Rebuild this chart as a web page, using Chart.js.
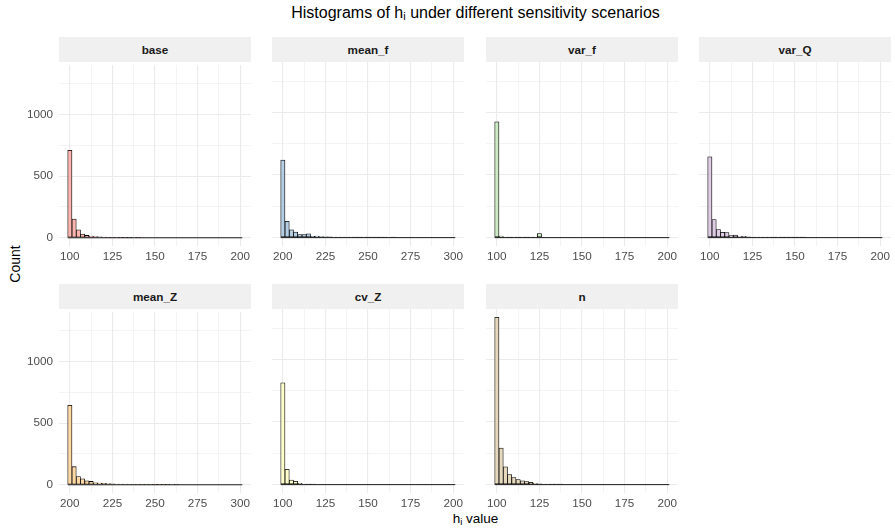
<!DOCTYPE html>
<html>
<head>
<meta charset="utf-8">
<script src="https://cdn.jsdelivr.net/npm/chart.js@4.4.0/dist/chart.umd.min.js"></script>
<style>
  body { margin: 0; width: 895px; height: 530px; background: #fff; position: relative; overflow: hidden;
         font-family: "Liberation Sans", Arial, Helvetica, sans-serif; }
  canvas { position: absolute; }
  .strip { position: absolute; height: 25px; line-height: 25px; background: #f0f0f0; text-align: center;
           font-weight: bold; font-size: 11.7px; color: #1a1a1a; }
  .label { position: absolute; color: #000; font-size: 13.5px; white-space: nowrap; }
  .label sub { font-size: 9.5px; vertical-align: -2px; line-height: 0; }
  #title { left: 0; width: 951px; top: 4px; text-align: center; font-size: 16px; }
  #title sub { font-size: 11px; }
  #xtitle { left: 0; width: 951px; top: 511px; text-align: center; }
  #ytitle { left: 15px; top: 264px; transform: translate(-50%, -50%) rotate(-90deg); font-size: 14px; }
</style>
</head>
<body>
<div class="label" id="title">Histograms of h<sub>i</sub> under different sensitivity scenarios</div>
<div class="label" id="xtitle">h<sub>i</sub> value</div>
<div class="label" id="ytitle">Count</div>

<script>
// scenarios in facet order
const scenarios = ['base', 'mean_f', 'var_f', 'var_Q', 'mean_Z', 'cv_Z', 'n'];
const binStarts = [100, 200, 100, 100, 200, 100, 100];
const binWidth = 2.5;

// counts per bin (41 bins each, first bin centred on binStart)
const baseCounts  = [710, 152, 64, 30, 19, 13, 10, 7, 5, 3, 2, 2, 1, 1, 1, 0, 1, 0, 0, 0, 0, 0, 0, 0, 0, 0, 0, 0, 0, 0, 0, 0, 0, 0, 0, 0, 0, 0, 0, 0, 0];
const meanFCounts = [620, 130, 62, 45, 24, 24, 30, 10, 12, 8, 6, 6, 4, 5, 3, 4, 3, 2, 2, 3, 2, 1, 1, 2, 1, 0, 1, 0, 0, 0, 0, 0, 0, 0, 0, 0, 0, 0, 0, 0, 0];
const varFCounts  = [925, 12, 3, 2, 3, 2, 3, 2, 4, 3, 32, 0, 0, 0, 0, 0, 0, 0, 0, 0, 0, 0, 0, 0, 0, 0, 0, 0, 0, 0, 0, 0, 0, 0, 0, 0, 0, 0, 0, 0, 0];
const varQCounts  = [645, 145, 65, 43, 40, 16, 20, 8, 10, 6, 5, 4, 4, 3, 3, 2, 3, 2, 1, 1, 2, 1, 1, 0, 0, 0, 0, 0, 0, 0, 0, 0, 0, 0, 0, 0, 0, 0, 0, 0, 0];
const meanZCounts = [645, 147, 67, 48, 32, 27, 15, 14, 11, 10, 8, 6, 6, 5, 4, 3, 3, 2, 2, 2, 1, 1, 1, 1, 0, 1, 0, 0, 0, 0, 0, 0, 0, 0, 0, 0, 0, 0, 0, 0, 0];
const cvZCounts   = [813, 123, 37, 27, 10, 4, 2, 1, 0, 0, 0, 0, 0, 0, 0, 0, 0, 0, 0, 0, 0, 0, 0, 0, 0, 0, 0, 0, 0, 0, 0, 0, 0, 0, 0, 0, 0, 0, 0, 0, 0];
const nCounts     = [1336, 292, 142, 80, 56, 40, 30, 24, 19, 11, 6, 4, 3, 2, 1, 1, 0, 0, 0, 0, 0, 0, 0, 0, 0, 0, 0, 0, 0, 0, 0, 0, 0, 0, 0, 0, 0, 0, 0, 0, 0];
const allCounts = [baseCounts, meanFCounts, varFCounts, varQCounts, meanZCounts, cvZCounts, nCounts];

const fillColors = ['#FBB4AE', '#B3CDE3', '#CCEBC5', '#DECBE4', '#FED9A6', '#FFFFCC', '#E5D8BD'];

// axis breaks: labelled (major) and grid-only (minor)
const yTickLabels = [0, 500, 1000];
const yMinorBreaks = [250, 750, 1250];
const xTickLabels100 = [100, 125, 150, 175, 200];
const xMinorBreaks100 = [112.5, 137.5, 162.5, 187.5];
const xTickLabels200 = [200, 225, 250, 275, 300];
const xMinorBreaks200 = [212.5, 237.5, 262.5, 287.5];

// layout (px)
const COL_X = [59, 272, 486, 699];
const ROW_Y = [62, 309];
const PANEL_W = 192, PANEL_H = 184, STRIP_H = 25;
const PAD_L = 14, PAD_R = 14, PAD_T = 10, X_AXIS_H = 22, Y_AXIS_W = 46;

const GRID = '#ebebeb';
const TICK_FONT = { family: '"Liberation Sans", Arial, Helvetica, sans-serif', size: 11.7 };

const yMaxData = Math.max(...allCounts.map(c => Math.max(...c)));
const yPad = yMaxData * 0.05;

function breakTicks(major, minor) {
    return major.concat(minor).sort((a, b) => a - b).map(v => ({ value: v }));
}

scenarios.forEach((name, i) => {
    const col = i % 4, row = Math.floor(i / 4);
    const left = COL_X[col], top = ROW_Y[row];
    const counts = allCounts[i];
    const start = binStarts[i];
    const xLabels = start === 200 ? xTickLabels200 : xTickLabels100;
    const xMinor = start === 200 ? xMinorBreaks200 : xMinorBreaks100;
    const lo = start - binWidth / 2;
    const hi = start + (counts.length - 1) * binWidth + binWidth / 2;
    const xPad = (hi - lo) * 0.05;
    const yw = col === 0 ? Y_AXIS_W : 0;

    const strip = document.createElement('div');
    strip.className = 'strip';
    strip.style.left = left + 'px';
    strip.style.top = (top - STRIP_H) + 'px';
    strip.style.width = PANEL_W + 'px';
    strip.textContent = name;
    document.body.appendChild(strip);

    const canvas = document.createElement('canvas');
    const cw = PAD_L + yw + PANEL_W + PAD_R;
    const ch = PAD_T + PANEL_H + X_AXIS_H;
    canvas.width = cw; canvas.height = ch;
    canvas.style.width = cw + 'px'; canvas.style.height = ch + 'px';
    canvas.style.left = (left - PAD_L - yw) + 'px';
    canvas.style.top = (top - PAD_T) + 'px';
    document.body.appendChild(canvas);

    new Chart(canvas.getContext('2d'), {
        type: 'bar',
        data: {
            datasets: [{
                type: 'bar',
                data: counts.map((c, k) => ({ x: start + k * binWidth, y: c })),
                backgroundColor: fillColors[i],
                borderColor: '#000',
                borderWidth: 0.8,
                borderSkipped: false,
                barPercentage: 1,
                categoryPercentage: 1,
                order: 1
            }, {
                // zero-height bins still show their outline along the baseline
                type: 'line',
                data: [{ x: lo, y: 0 }, { x: hi, y: 0 }],
                borderColor: '#1a1a1a',
                borderWidth: 1,
                pointRadius: 0,
                order: 0
            }]
        },
        options: {
            responsive: false,
            animation: false,
            layout: { padding: { left: PAD_L, right: PAD_R, top: PAD_T, bottom: 0 } },
            plugins: { legend: { display: false }, tooltip: { enabled: false } },
            scales: {
                x: {
                    type: 'linear',
                    offset: false,
                    min: lo - xPad,
                    max: hi + xPad,
                    border: { display: false },
                    grid: {
                        offset: false,
                        color: GRID,
                        drawTicks: false,
                        lineWidth: ctx => (ctx.tick && xLabels.includes(ctx.tick.value)) ? 1.1 : 0.55
                    },
                    ticks: {
                        autoSkip: false,
                        maxRotation: 0,
                        padding: 4,
                        color: '#4d4d4d',
                        font: TICK_FONT,
                        callback: v => xLabels.includes(v) ? String(v) : ''
                    },
                    afterBuildTicks: s => { s.ticks = breakTicks(xLabels, xMinor); },
                    afterFit: s => { s.height = X_AXIS_H; }
                },
                y: {
                    min: -yPad,
                    max: yMaxData + yPad,
                    border: { display: false },
                    grid: {
                        color: GRID,
                        drawTicks: false,
                        lineWidth: ctx => (ctx.tick && yTickLabels.includes(ctx.tick.value)) ? 1.1 : 0.55
                    },
                    ticks: {
                        display: col === 0,
                        autoSkip: false,
                        padding: 6,
                        color: '#4d4d4d',
                        font: TICK_FONT,
                        callback: v => yTickLabels.includes(v) ? String(v) : ''
                    },
                    afterBuildTicks: s => { s.ticks = breakTicks(yTickLabels, yMinorBreaks); },
                    afterFit: s => { s.width = yw; }
                }
            }
        }
    });
});
</script>
</body>
</html>
